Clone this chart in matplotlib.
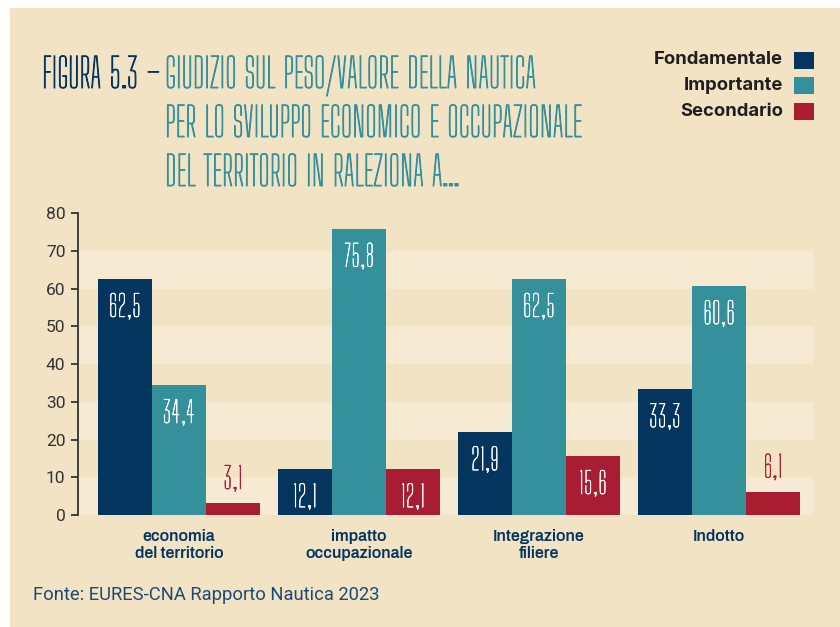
import matplotlib
matplotlib.use('Agg')
import matplotlib.pyplot as plt
import matplotlib.patheffects as pe
from matplotlib.patches import Rectangle
import numpy as np

# data
categories = ['economia\ndel territorio', 'impatto\noccupazionale', 'Integrazione\nfiliere', 'Indotto']
series = ['Fondamentale', 'Importante', 'Secondario']
fondamentale = [62.5, 12.1, 21.9, 33.3]
importante = [34.4, 75.8, 62.5, 60.6]
secondario = [3.1, 12.1, 15.6, 6.1]
yticks = [0, 10, 20, 30, 40, 50, 60, 70, 80]

NAVY = '#03355f'
TEAL = '#34909b'
RED = '#a81d32'
BG = '#f3e3c5'
BAND = '#f6ead2'

COND = ['Big Shoulders Display', 'DejaVu Sans']
BOLD = ['Inter', 'DejaVu Sans']
CAT = ['Archivo', 'DejaVu Sans']
LIGHT = ['Roboto', 'DejaVu Sans']


def thick(c, lw=0.6):
    # the condensed face is very thin, fatten the strokes a bit
    return [pe.withStroke(linewidth=lw, foreground=c)]


fig = plt.figure(figsize=(8.4, 6.27), dpi=100, facecolor='white')
# beige card behind everything
fig.patches.append(Rectangle((10 / 840, 0), 1, 1 - 8 / 627, transform=fig.transFigure,
                             facecolor=BG, edgecolor='none', zorder=-5))

ax = fig.add_axes([78 / 840, 1 - 515 / 627, (813 - 78) / 840, (515 - 213) / 627])
ax.patch.set_visible(False)
for lo in range(0, 80, 20):
    ax.axhspan(lo, lo + 10, color=BAND, lw=0, zorder=0)

x = np.arange(len(categories))
w = 0.3
cols = [NAVY, TEAL, RED]
for k, vals in enumerate([fondamentale, importante, secondario]):
    xs = x + (k - 1) * w
    ax.bar(xs, vals, width=w, color=cols[k], zorder=2)
    for xi, v in zip(xs, vals):
        lab = f'{v:.1f}'.replace('.', ',')
        if v > 10:
            ax.annotate(lab, (xi, v), xytext=(0, -10), textcoords='offset points',
                        ha='center', va='top', color='white', fontsize=21.5, family=COND,
                        path_effects=thick('white', 0.4), zorder=3)
        else:
            ax.annotate(lab, (xi, v), xytext=(0, 6), textcoords='offset points',
                        ha='center', va='bottom', color=cols[k], fontsize=21.5, family=COND,
                        path_effects=thick(cols[k], 0.4), zorder=3)

ax.set_xlim(-0.561, 3.522)
ax.set_ylim(0, 80)
ax.set_yticks(yticks)
ax.set_yticklabels([str(t) for t in yticks], family=LIGHT, fontsize=12.5, color='#333333')
ax.set_xticks(x)
ax.set_xticklabels(categories, family=CAT, fontsize=11.5, fontweight='bold', color=NAVY,
                   linespacing=1.15)
ax.tick_params(axis='x', length=0, pad=10)
ax.tick_params(axis='y', length=5, width=1.3, color='#333333', pad=4)
for s in ['top', 'right', 'bottom']:
    ax.spines[s].set_visible(False)
ax.spines['left'].set_color('#333333')
ax.spines['left'].set_linewidth(1.3)

# title
fig.text(42 / 840, 1 - 88 / 627, 'FIGURA 5.3 –', color=NAVY, fontsize=29, family=COND,
         va='baseline', path_effects=thick(NAVY, 0.7))
title_lines = ['GIUDIZIO SUL PESO/VALORE DELLA NAUTICA',
               'PER LO SVILUPPO ECONOMICO E OCCUPAZIONALE',
               'DEL TERRITORIO IN RALEZIONA A...']
for i, t in enumerate(title_lines):
    fig.text(165 / 840, 1 - (88 + 49 * i) / 627, t, color=TEAL, fontsize=29, family=COND,
             va='baseline', path_effects=thick(TEAL, 0.7))

# legend
for i, (name, c) in enumerate(zip(series, cols)):
    yc = 60 + 25.5 * i
    fig.patches.append(Rectangle((794 / 840, 1 - (yc + 8.5) / 627), 20 / 840, 17 / 627,
                                 transform=fig.transFigure, facecolor=c, edgecolor='none'))
    fig.text(783 / 840, 1 - yc / 627, name, ha='right', va='center', fontsize=13.3,
             fontweight='bold', family=BOLD, color='#1f1f1f')

fig.text(33 / 840, 1 - 595 / 627, 'Fonte: EURES-CNA Rapporto Nautica 2023', color='#1d4a75',
         fontsize=13.2, family=LIGHT, va='center')

fig.savefig('out.png', dpi=100, facecolor=fig.get_facecolor())
